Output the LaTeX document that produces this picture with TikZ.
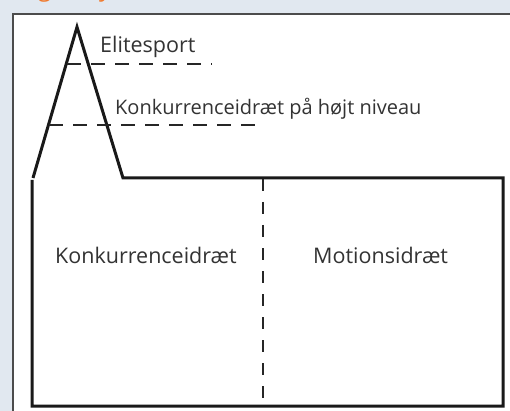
\documentclass[tikz,border=0pt]{standalone}
\usepackage{fontspec}
\setmainfont{Open Sans}
\definecolor{bgblue}{HTML}{E1E8F0}
\definecolor{txtgray}{HTML}{333333}
\definecolor{headorange}{HTML}{F07A2E}
\begin{document}
\begin{tikzpicture}[x=1pt,y=-1pt,
  shape line/.style={line width=3pt,black!90,line join=miter},
  dash line/.style={line width=2.2pt,black!85,dash pattern=on 14pt off 10pt},
  lbl/.style={anchor=base west,inner sep=0pt,text=txtgray,font=\fontsize{21.5}{25}\selectfont}]
\useasboundingbox (0,0) rectangle (510,411);
\fill[bgblue] (0,0) rectangle (510,411);
\fill[white] (13,14) rectangle (511,412);
\draw[line width=1.5pt,black!70] (13,412) -- (13,14) -- (511,14);
% clipped heading fragments
\begin{scope}
\clip (0,0) rectangle (510,13);
\node[anchor=base west,inner sep=0pt,text=headorange,font=\fontsize{24}{28}\selectfont] (hg) at (38,-3) {g};
\node[anchor=base west,inner sep=0pt,text=headorange,font=\fontsize{24}{28}\selectfont] (hy) at (99,-3) {y};
\end{scope}
% pyramid outline
\coordinate (peak) at (77,27);
\coordinate (lb) at (33,178);
\coordinate (rb) at (123,178);
\coordinate (rc) at (503,178);
\coordinate (br) at (503,406);
\coordinate (bl) at (32,406);
\coordinate (lt) at (32,180);
\draw[shape line] (lb) -- (peak) -- (rb) -- (rc) -- (br) -- (bl) -- (lt);
% dashed lines
\coordinate (d1a) at (67,64);
\coordinate (d1b) at (212,64);
\coordinate (d2a) at (49,125);
\coordinate (d2b) at (265,125);
\draw[dash line] (d1a) -- (d1b);
\draw[dash line] (d2a) -- (d2b);
\coordinate (dv1) at (263,179);
\coordinate (dv2) at (263,406);
\draw[line width=2.2pt,black!85,dash pattern=on 12pt off 11pt] (dv1) -- (dv2);
% labels
\node[lbl] (elite) at (100,53) {Elitesport};
\node[lbl,font=\fontsize{20}{24}\selectfont] (khn) at (115,115) {Konkurrenceidræt på højt niveau};
\node[lbl] (kon) at (55,263) {Konkurrenceidræt};
\node[lbl] (mot) at (313,263) {Motionsidræt};
\end{tikzpicture}
\end{document}
